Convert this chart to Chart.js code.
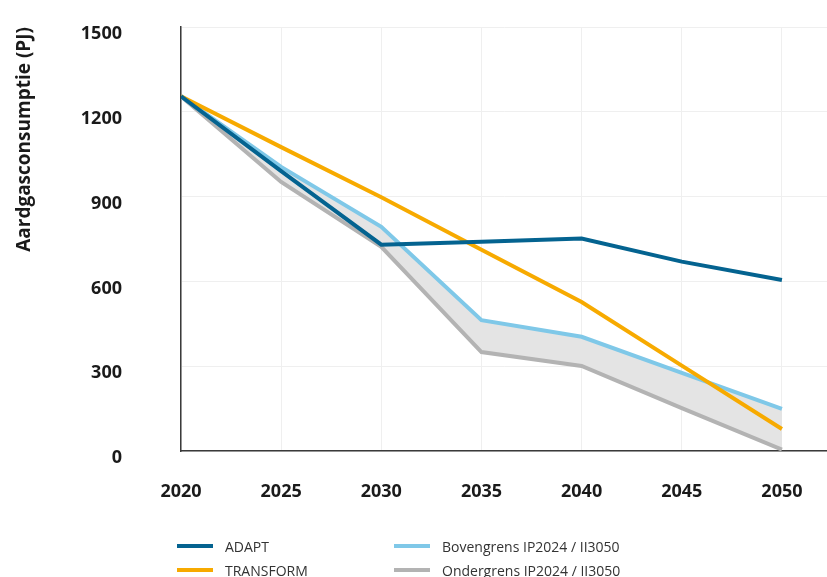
<!DOCTYPE html>
<html>
<head>
<meta charset="utf-8">
<script src="https://cdn.jsdelivr.net/npm/chart.js@4"></script>
<style>
  body { margin: 0; background: #fff; }
  #wrap { position: relative; width: 827px; height: 577px; }
  #legend {
    position: absolute; left: 177px; top: 534px;
    display: grid; grid-auto-flow: column;
    grid-template-rows: 24px 24px; grid-template-columns: 217px auto;
    font-family: "Open Sans", sans-serif; font-size: 14px; color: #333;
  }
  .item { display: flex; align-items: center; }
  .swatch { width: 36px; height: 4px; margin-right: 12px; }
</style>
</head>
<body>
<div id="wrap">
  <canvas id="myChart" width="827" height="577"></canvas>
  <div id="legend"></div>
</div>
<script>
// values (PJ)
const years = [2020, 2025, 2030, 2035, 2040, 2045, 2050];
const adapt = [1255, 990, 730, 740, 752, 670, 605];
const transform = [1255, 1075, 898, 712, 527, 302, 78];
const bovengrens = [1255, 1005, 793, 463, 404, 276, 149];
const ondergrens = [1255, 952, 722, 350, 301, 152, 5];
const yTicks = [0, 300, 600, 900, 1200, 1500];

const toPoints = (vals) => vals.map((v, i) => ({ x: years[i], y: v }));

function line(label, vals, color, extra = {}) {
  return Object.assign({
    label: label,
    data: toPoints(vals),
    borderColor: color,
    backgroundColor: color,
    borderWidth: 4,
    pointRadius: 0,
    tension: 0,
    fill: false,
  }, extra);
}

// html legend in two columns, like the reference
const htmlLegend = {
  id: "htmlLegend",
  afterUpdate(chart) {
    const box = document.getElementById("legend");
    box.innerHTML = "";
    chart.data.datasets.forEach((ds) => {
      const item = document.createElement("div");
      item.className = "item";
      item.innerHTML = `<span class="swatch" style="background:${ds.borderColor}"></span><span>${ds.label}</span>`;
      box.appendChild(item);
    });
  },
};

const tickFont = { family: "Open Sans", size: 18, weight: "bold" };

const ctx = document.getElementById("myChart").getContext("2d");
new Chart(ctx, {
  type: "line",
  data: {
    datasets: [
      line("ADAPT", adapt, "#046390"),
      line("TRANSFORM", transform, "#f7aa00"),
      line("Bovengrens IP2024 / II3050", bovengrens, "#7fc8e8"),
      line("Ondergrens IP2024 / II3050", ondergrens, "#b3b3b3", {
        fill: { target: 2 },
        backgroundColor: "#e4e4e4",
      }),
    ],
  },
  options: {
    responsive: false,
    animation: false,
    layout: { padding: { left: 9, top: 27, right: 0, bottom: 66 } },
    plugins: {
      legend: { display: false },
      tooltip: { enabled: false },
      filler: { drawTime: "beforeDatasetsDraw" },
    },
    scales: {
      x: {
        type: "linear",
        min: 2020,
        max: 2052.25,
        afterBuildTicks: (scale) => {
          scale.ticks = years.map((v) => ({ value: v }));
        },
        afterFit: (scale) => {
          scale.height = 60;
          scale.paddingLeft = 0;
          scale.paddingRight = 0;
        },
        grid: { color: "#efefef", drawTicks: false },
        border: { color: "#3a3a3a", width: 1.5 },
        ticks: {
          padding: 30,
          color: "#1a1a1a",
          font: tickFont,
          callback: (v) => String(v),
        },
      },
      y: {
        min: 0,
        max: 1500,
        afterBuildTicks: (scale) => {
          scale.ticks = yTicks.map((v) => ({ value: v }));
        },
        afterFit: (scale) => {
          scale.width = 172;
          scale.paddingTop = 0;
          scale.paddingBottom = 0;
        },
        grid: { color: "#efefef", drawTicks: false },
        border: { color: "#3a3a3a", width: 1.5 },
        ticks: {
          padding: 59,
          labelOffset: 7,
          color: "#1a1a1a",
          font: tickFont,
          callback: (v) => String(v),
        },
        title: {
          display: true,
          align: "end",
          text: "Aardgasconsumptie (PJ)",
          color: "#1a1a1a",
          font: { family: "Open Sans", size: 19, weight: "bold" },
        },
      },
    },
  },
  plugins: [htmlLegend],
});
</script>
</body>
</html>
